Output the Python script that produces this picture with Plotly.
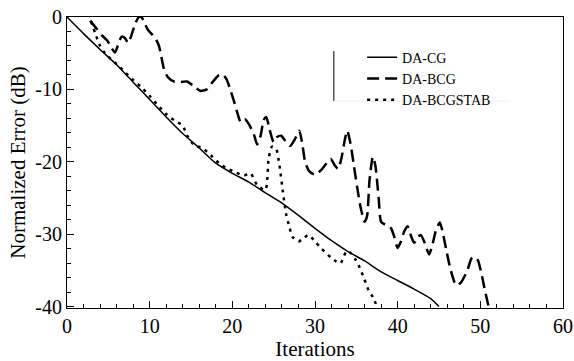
import plotly.graph_objects as go

# ---- data ----
cg_x = [0, 2, 4, 6, 8, 10, 12, 14, 16, 18, 20, 22, 24, 26, 28, 30, 32, 34, 36, 38, 40, 42, 44, 45]
cg_y = [0, -2.3, -4.5, -6.6, -9.0, -11.4, -13.8, -16.1, -18.1, -20.2, -21.6, -22.8, -24.3, -25.7,
        -27.4, -29.2, -30.9, -32.4, -33.7, -35.2, -36.4, -37.6, -38.9, -40.0]

bcg_x = [2.8, 3.5, 4.2, 4.9, 5.4, 5.8, 6.2, 6.6, 7.0, 7.4, 7.8, 8.3, 8.7, 9.0, 9.4, 9.8, 10.6, 11.1,
         11.5, 11.8, 12.2, 12.9, 13.7, 14.5, 15.3, 16.1, 16.9, 17.6, 18.3, 18.8, 19.3, 19.8, 20.3,
         20.7, 21.0, 21.5, 22.0, 22.6, 23.0, 23.4, 23.8, 24.1, 24.5, 25.0, 25.4, 25.9, 26.4, 27.0,
         27.6, 28.1, 28.5, 28.8, 29.3, 30.0, 30.7, 31.4, 31.9, 32.4, 32.8, 33.2, 33.6, 33.9, 34.3,
         34.7, 35.1, 35.5, 36.0, 36.3, 36.6, 37.0, 37.3, 37.7, 38.0, 38.5, 39.2, 39.6, 40.0, 40.4,
         40.8, 41.2, 41.6, 42.0, 42.5, 42.8, 43.3, 43.8, 44.2, 44.6, 45.1, 45.5, 45.9, 46.4, 46.9,
         47.2, 47.7, 48.4, 48.9, 49.2, 49.7, 50.2, 50.6, 51.0]
bcg_y = [-0.5, -1.5, -2.5, -3.3, -4.3, -4.9, -3.8, -2.7, -2.9, -3.6, -2.5, -0.8, 0.0, 0.0, -0.9, -1.8,
         -2.8, -3.9, -6.0, -7.5, -8.3, -8.9, -9.0, -8.9, -9.5, -10.2, -10.0, -9.0, -8.1, -7.9, -8.6,
         -10.2, -12.0, -13.6, -14.5, -14.1, -14.8, -16.2, -17.6, -16.5, -14.2, -13.8, -15.5, -17.3,
         -16.6, -16.4, -17.1, -17.8, -16.8, -15.7, -17.8, -20.0, -21.3, -21.8, -21.2, -20.2, -19.6,
         -20.5, -21.0, -19.5, -17.0, -15.7, -17.5, -20.5, -23.5, -26.2, -28.3, -27.5, -22.5, -19.3,
         -20.5, -25.0, -28.3, -28.7, -29.2, -30.4, -31.9, -31.0, -29.6, -28.9, -30.2, -31.2, -30.3,
         -30.1, -31.3, -32.8, -31.5, -29.6, -28.4, -30.0, -32.3, -34.9, -36.7, -37.1, -36.6, -35.1,
         -33.4, -33.1, -33.6, -35.8, -38.0, -40.0]

stab_x = [2.9, 3.4, 4.0, 4.6, 5.3, 6.0, 7.0, 8.0, 9.0, 10.0, 11.0, 12.0, 13.0, 14.0, 14.5, 15.3, 16.5,
          17.5, 18.5, 19.5, 20.5, 21.4, 22.2, 23.0, 24.0, 24.4, 24.8, 25.3, 25.7, 26.1, 26.5, 26.9,
          27.3, 28.0, 28.6, 29.2, 30.0, 30.7, 31.9, 32.6, 33.1, 33.5, 33.9, 34.4, 34.9, 35.4, 35.9,
          36.5, 37.0, 37.5]
stab_y = [-0.6, -2.2, -4.0, -5.0, -5.8, -6.5, -7.6, -8.7, -9.7, -10.9, -12.2, -13.4, -14.3, -15.0,
          -16.3, -17.6, -18.2, -19.2, -20.3, -21.0, -21.5, -21.9, -21.6, -23.2, -23.9, -19.5, -17.9,
          -18.2, -20.5, -24.0, -27.2, -29.0, -30.4, -31.0, -30.6, -30.1, -31.0, -31.9, -33.2, -33.8,
          -34.0, -33.0, -32.3, -32.7, -33.5, -34.6, -36.0, -37.8, -38.7, -40.0]

names = ["DA-CG", "DA-BCG", "DA-BCGSTAB"]
x_ticks = [0, 10, 20, 30, 40, 50, 60]
y_ticks = [0, -10, -20, -30, -40]
y_tick_text = ["0", "-10", "-20", "-30", "-40"]

FONT = "Times New Roman, Liberation Serif, DejaVu Serif, serif"

fig = go.Figure()
fig.add_trace(go.Scatter(x=cg_x, y=cg_y, name=names[0], mode="lines",
                         line=dict(color="black", width=1.5, shape="spline", smoothing=0.5)))
fig.add_trace(go.Scatter(x=bcg_x, y=bcg_y, name=names[1], mode="lines",
                         line=dict(color="black", width=2.5, dash="12px,6px", shape="spline", smoothing=0.6)))
fig.add_trace(go.Scatter(x=stab_x, y=stab_y, name=names[2], mode="lines",
                         line=dict(color="black", width=2.5, dash="3px,5px", shape="spline", smoothing=0.6)))

axis_common = dict(showline=True, linecolor="black", linewidth=1, mirror=True,
                   ticks="inside", ticklen=7, tickwidth=1, tickcolor="black",
                   showgrid=False, zeroline=False, automargin=False,
                   tickfont=dict(family=FONT, size=20, color="black"))

fig.update_xaxes(range=[0, 60], tickmode="array", tickvals=x_ticks,
                 minor=dict(tickmode="linear", tick0=0, dtick=2, ticks="inside", ticklen=4,
                            tickcolor="black", tickwidth=1),
                 title=dict(text="Iterations", font=dict(family=FONT, size=21, color="black"), standoff=6),
                 **axis_common)
fig.update_yaxes(range=[-40.2, 0], tickmode="array", tickvals=y_ticks, ticktext=y_tick_text,
                 minor=dict(tickmode="linear", tick0=0, dtick=2, ticks="inside", ticklen=4,
                            tickcolor="black", tickwidth=1),
                 title=dict(text="Normalized Error (dB)", font=dict(family=FONT, size=21, color="black"),
                            standoff=3),
                 **axis_common)

fig.update_layout(
    width=574, height=361,
    margin=dict(l=67, r=11, t=17, b=53, autoexpand=False),
    paper_bgcolor="white", plot_bgcolor="white",
    font=dict(family=FONT, color="black"),
    legend=dict(x=0.595, y=0.915, xanchor="left", yanchor="top",
                bgcolor="rgba(255,255,255,0)", borderwidth=0,
                font=dict(family=FONT, size=14, color="black"),
                itemwidth=30, tracegroupgap=0),
    shapes=[
        dict(type="line", xref="paper", yref="paper", x0=0.538, x1=0.538, y0=0.711, y1=0.883,
             line=dict(color="black", width=1)),
        dict(type="line", xref="paper", yref="paper", x0=0.538, x1=0.893, y0=0.711, y1=0.711,
             line=dict(color="#eeeeee", width=1)),
    ],
)

fig.write_html("out.html")
